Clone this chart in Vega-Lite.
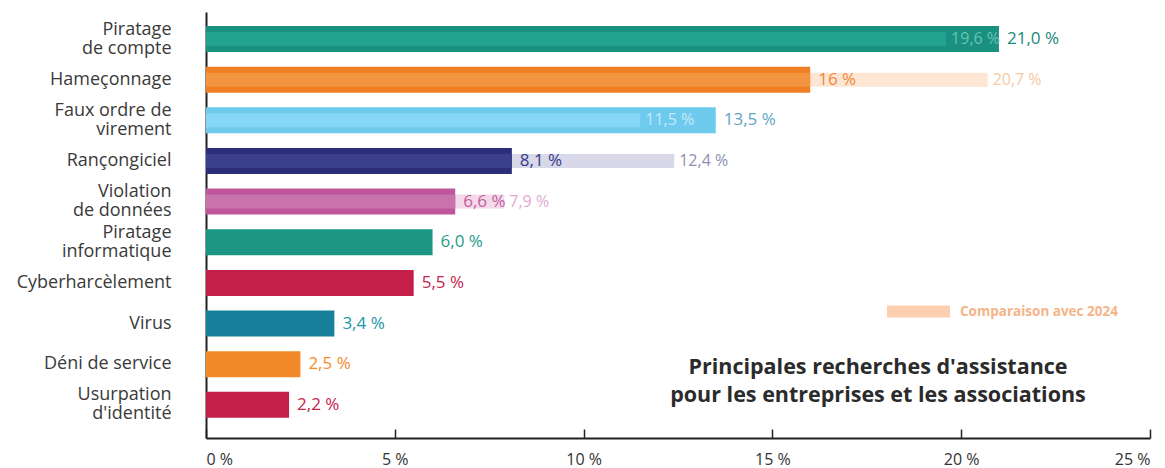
{
  "$schema": "https://vega.github.io/schema/vega-lite/v6.json",
  "width": 944,
  "height": 426,
  "autosize": {"type": "none"},
  "padding": {"left": 206, "top": 12, "right": 15, "bottom": 30},
  "background": "white",
  "config": {"font": "Open Sans", "view": {"stroke": null}},
  "title": {
    "text": ["Principales recherches d'assistance", "pour les entreprises et les associations"],
    "orient": "bottom",
    "anchor": "middle",
    "frame": "group",
    "dx": 200,
    "dy": -114,
    "fontSize": 21.5,
    "fontWeight": "bold",
    "color": "#2b2b2b",
    "lineHeight": 28,
    "font": "Open Sans"
  },
  "data": {
    "values": [
      {"cat": "Piratage de compte", "v2025": 21.0, "v2024": 19.6, "l2025": "21,0 %", "l2024": "19,6 %"},
      {"cat": "Hameçonnage", "v2025": 16.0, "v2024": 20.7, "l2025": "16 %", "l2024": "20,7 %"},
      {"cat": "Faux ordre de virement", "v2025": 13.5, "v2024": 11.5, "l2025": "13,5 %", "l2024": "11,5 %"},
      {"cat": "Rançongiciel", "v2025": 8.1, "v2024": 12.4, "l2025": "8,1 %", "l2024": "12,4 %"},
      {"cat": "Violation de données", "v2025": 6.6, "v2024": 7.9, "l2025": "6,6 %", "l2024": "7,9 %"},
      {"cat": "Piratage informatique", "v2025": 6.0, "v2024": null, "l2025": "6,0 %", "l2024": null},
      {"cat": "Cyberharcèlement", "v2025": 5.5, "v2024": null, "l2025": "5,5 %", "l2024": null},
      {"cat": "Virus", "v2025": 3.4, "v2024": null, "l2025": "3,4 %", "l2024": null},
      {"cat": "Déni de service", "v2025": 2.5, "v2024": null, "l2025": "2,5 %", "l2024": null},
      {"cat": "Usurpation d'identité", "v2025": 2.2, "v2024": null, "l2025": "2,2 %", "l2024": null}
    ]
  },
  "encoding": {
    "y": {
      "field": "cat",
      "type": "nominal",
      "sort": null,
      "scale": {"paddingInner": 0.36, "paddingOuter": 0.42, "align": 0.41},
      "axis": {
        "title": null,
        "ticks": false,
        "domainColor": "#222222",
        "domainWidth": 2,
        "labelFont": "Open Sans",
        "labelFontSize": 18,
        "labelColor": "#3a3a3a",
        "labelPadding": 35,
        "labelLineHeight": 19,
        "labelLimit": 300,
        "labelOffset": {"condition": {"test": "indexof(['Piratage de compte', 'Faux ordre de virement', 'Violation de données', 'Piratage informatique', \"Usurpation d'identité\"], datum.value) >= 0", "value": -9.5}, "value": 0},
        "labelExpr": "datum.value == 'Piratage de compte' ? ['Piratage', 'de compte'] : datum.value == 'Faux ordre de virement' ? ['Faux ordre de', 'virement'] : datum.value == 'Violation de données' ? ['Violation', 'de données'] : datum.value == 'Piratage informatique' ? ['Piratage', 'informatique'] : datum.value == \"Usurpation d'identité\" ? ['Usurpation', \"d'identité\"] : datum.value"
      }
    }
  },
  "layer": [
    {
      "transform": [{"filter": "datum.v2024 != null"}],
      "mark": {"type": "bar", "size": 14},
      "encoding": {
        "x": {"field": "v2024", "type": "quantitative", "scale": {"domain": [0, 25], "nice": false}, "axis": {"values": [0, 5, 10, 15, 20, 25], "labelExpr": "datum.value + ' %'", "title": null, "grid": false, "domainColor": "#222222", "domainWidth": 2, "tickColor": "#222222", "tickWidth": 1.5, "tickSize": -9, "labelPadding": 22, "labelFontSize": 16, "labelColor": "#333333", "labelFont": "Open Sans"}},
        "color": {"field": "cat", "type": "nominal", "legend": null, "scale": {"domain": ["Piratage de compte", "Hameçonnage", "Faux ordre de virement", "Rançongiciel", "Violation de données", "Piratage informatique", "Cyberharcèlement", "Virus", "Déni de service", "Usurpation d'identité"], "range": ["#cdeae4", "#fde6d3", "#d5f0fb", "#d8d8e9", "#f3d9e9", "#cccccc", "#cccccc", "#cccccc", "#cccccc", "#cccccc"]}}
      }
    },
    {
      "mark": {"type": "bar"},
      "encoding": {
        "x": {"field": "v2025", "type": "quantitative", "scale": {"domain": [0, 25], "nice": false}, "axis": {"values": [0, 5, 10, 15, 20, 25], "labelExpr": "datum.value + ' %'", "title": null, "grid": false, "domainColor": "#222222", "domainWidth": 2, "tickColor": "#222222", "tickWidth": 1.5, "tickSize": -9, "labelPadding": 22, "labelFontSize": 16, "labelColor": "#333333", "labelFont": "Open Sans"}},
        "color": {"field": "cat", "type": "nominal", "legend": null, "scale": {"domain": ["Piratage de compte", "Hameçonnage", "Faux ordre de virement", "Rançongiciel", "Violation de données", "Piratage informatique", "Cyberharcèlement", "Virus", "Déni de service", "Usurpation d'identité"], "range": ["#1a9080", "#f07e22", "#6fcbee", "#2c2e78", "#bf569c", "#1a9683", "#c41f48", "#16809a", "#f28a2a", "#c41f48"]}}
      }
    },
    {
      "transform": [{"filter": "datum.v2024 != null && datum.v2024 < datum.v2025"}],
      "mark": {"type": "bar", "size": 14},
      "encoding": {
        "x": {"field": "v2024", "type": "quantitative", "scale": {"domain": [0, 25], "nice": false}, "axis": {"values": [0, 5, 10, 15, 20, 25], "labelExpr": "datum.value + ' %'", "title": null, "grid": false, "domainColor": "#222222", "domainWidth": 2, "tickColor": "#222222", "tickWidth": 1.5, "tickSize": -9, "labelPadding": 22, "labelFontSize": 16, "labelColor": "#333333", "labelFont": "Open Sans"}},
        "color": {"field": "cat", "type": "nominal", "legend": null, "scale": {"domain": ["Piratage de compte", "Hameçonnage", "Faux ordre de virement", "Rançongiciel", "Violation de données", "Piratage informatique", "Cyberharcèlement", "Virus", "Déni de service", "Usurpation d'identité"], "range": ["#22a392", "#f39540", "#86d6f5", "#3b3f8c", "#c973ad", "#cccccc", "#cccccc", "#cccccc", "#cccccc", "#cccccc"]}}
      }
    },
    {
      "transform": [{"filter": "datum.v2024 != null && datum.v2024 > datum.v2025"}],
      "mark": {"type": "bar", "size": 14},
      "encoding": {
        "x": {"field": "v2025", "type": "quantitative", "scale": {"domain": [0, 25], "nice": false}, "axis": {"values": [0, 5, 10, 15, 20, 25], "labelExpr": "datum.value + ' %'", "title": null, "grid": false, "domainColor": "#222222", "domainWidth": 2, "tickColor": "#222222", "tickWidth": 1.5, "tickSize": -9, "labelPadding": 22, "labelFontSize": 16, "labelColor": "#333333", "labelFont": "Open Sans"}},
        "color": {"field": "cat", "type": "nominal", "legend": null, "scale": {"domain": ["Piratage de compte", "Hameçonnage", "Faux ordre de virement", "Rançongiciel", "Violation de données", "Piratage informatique", "Cyberharcèlement", "Virus", "Déni de service", "Usurpation d'identité"], "range": ["#22a392", "#f39540", "#86d6f5", "#3b3f8c", "#c973ad", "#cccccc", "#cccccc", "#cccccc", "#cccccc", "#cccccc"]}}
      }
    },
    {
      "transform": [{"filter": "datum.v2024 != null"}],
      "mark": {"type": "text", "align": "left", "baseline": "middle", "dx": 5, "fontSize": 16, "fontWeight": 500, "font": "Open Sans"},
      "encoding": {
        "x": {"field": "v2024", "type": "quantitative", "scale": {"domain": [0, 25], "nice": false}, "axis": {"values": [0, 5, 10, 15, 20, 25], "labelExpr": "datum.value + ' %'", "title": null, "grid": false, "domainColor": "#222222", "domainWidth": 2, "tickColor": "#222222", "tickWidth": 1.5, "tickSize": -9, "labelPadding": 22, "labelFontSize": 16, "labelColor": "#333333", "labelFont": "Open Sans"}},
        "text": {"field": "l2024"},
        "color": {"field": "cat", "type": "nominal", "legend": null, "scale": {"domain": ["Piratage de compte", "Hameçonnage", "Faux ordre de virement", "Rançongiciel", "Violation de données", "Piratage informatique", "Cyberharcèlement", "Virus", "Déni de service", "Usurpation d'identité"], "range": ["#66c4b4", "#f6c9a3", "#c2e9f9", "#8d8fb6", "#e3a9cf", "#cccccc", "#cccccc", "#cccccc", "#cccccc", "#cccccc"]}}
      }
    },
    {
      "mark": {"type": "text", "align": "left", "baseline": "middle", "dx": 8, "fontSize": 17, "fontWeight": 500, "font": "Open Sans"},
      "encoding": {
        "x": {"field": "v2025", "type": "quantitative", "scale": {"domain": [0, 25], "nice": false}, "axis": {"values": [0, 5, 10, 15, 20, 25], "labelExpr": "datum.value + ' %'", "title": null, "grid": false, "domainColor": "#222222", "domainWidth": 2, "tickColor": "#222222", "tickWidth": 1.5, "tickSize": -9, "labelPadding": 22, "labelFontSize": 16, "labelColor": "#333333", "labelFont": "Open Sans"}},
        "text": {"field": "l2025"},
        "color": {"field": "cat", "type": "nominal", "legend": null, "scale": {"domain": ["Piratage de compte", "Hameçonnage", "Faux ordre de virement", "Rançongiciel", "Violation de données", "Piratage informatique", "Cyberharcèlement", "Virus", "Déni de service", "Usurpation d'identité"], "range": ["#17897a", "#ee8636", "#5ea5c4", "#363a86", "#c4609f", "#1f9a88", "#c4234b", "#2195a8", "#f28c2c", "#c4234b"]}}
      }
    },
    {
      "mark": {"type": "point", "opacity": 0, "filled": true},
      "encoding": {
        "x": {"field": "v2025", "type": "quantitative", "scale": {"domain": [0, 25], "nice": false}, "axis": {"values": [0, 5, 10, 15, 20, 25], "labelExpr": "datum.value + ' %'", "title": null, "grid": false, "domainColor": "#222222", "domainWidth": 2, "tickColor": "#222222", "tickWidth": 1.5, "tickSize": -9, "labelPadding": 22, "labelFontSize": 16, "labelColor": "#333333", "labelFont": "Open Sans"}},
        "fill": {
          "datum": "Comparaison avec 2024",
          "type": "nominal",
          "scale": {"range": ["#fbcfb0"]},
          "legend": {
            "orient": "none",
            "legendX": 681,
            "legendY": 268,
            "title": null,
            "symbolType": "M-1,-0.19H1V0.19H-1Z",
            "symbolSize": 3969,
            "symbolOpacity": 1,
            "symbolStrokeWidth": 0,
            "symbolFillColor": "#fbcfb0",
            "labelColor": "#f5b487",
            "labelFontSize": 13.5,
            "labelFontWeight": "bold",
            "labelFont": "Open Sans",
            "labelOffset": 10,
            "padding": 0
          }
        }
      }
    }
  ],
  "resolve": {"scale": {"color": "independent"}}
}
